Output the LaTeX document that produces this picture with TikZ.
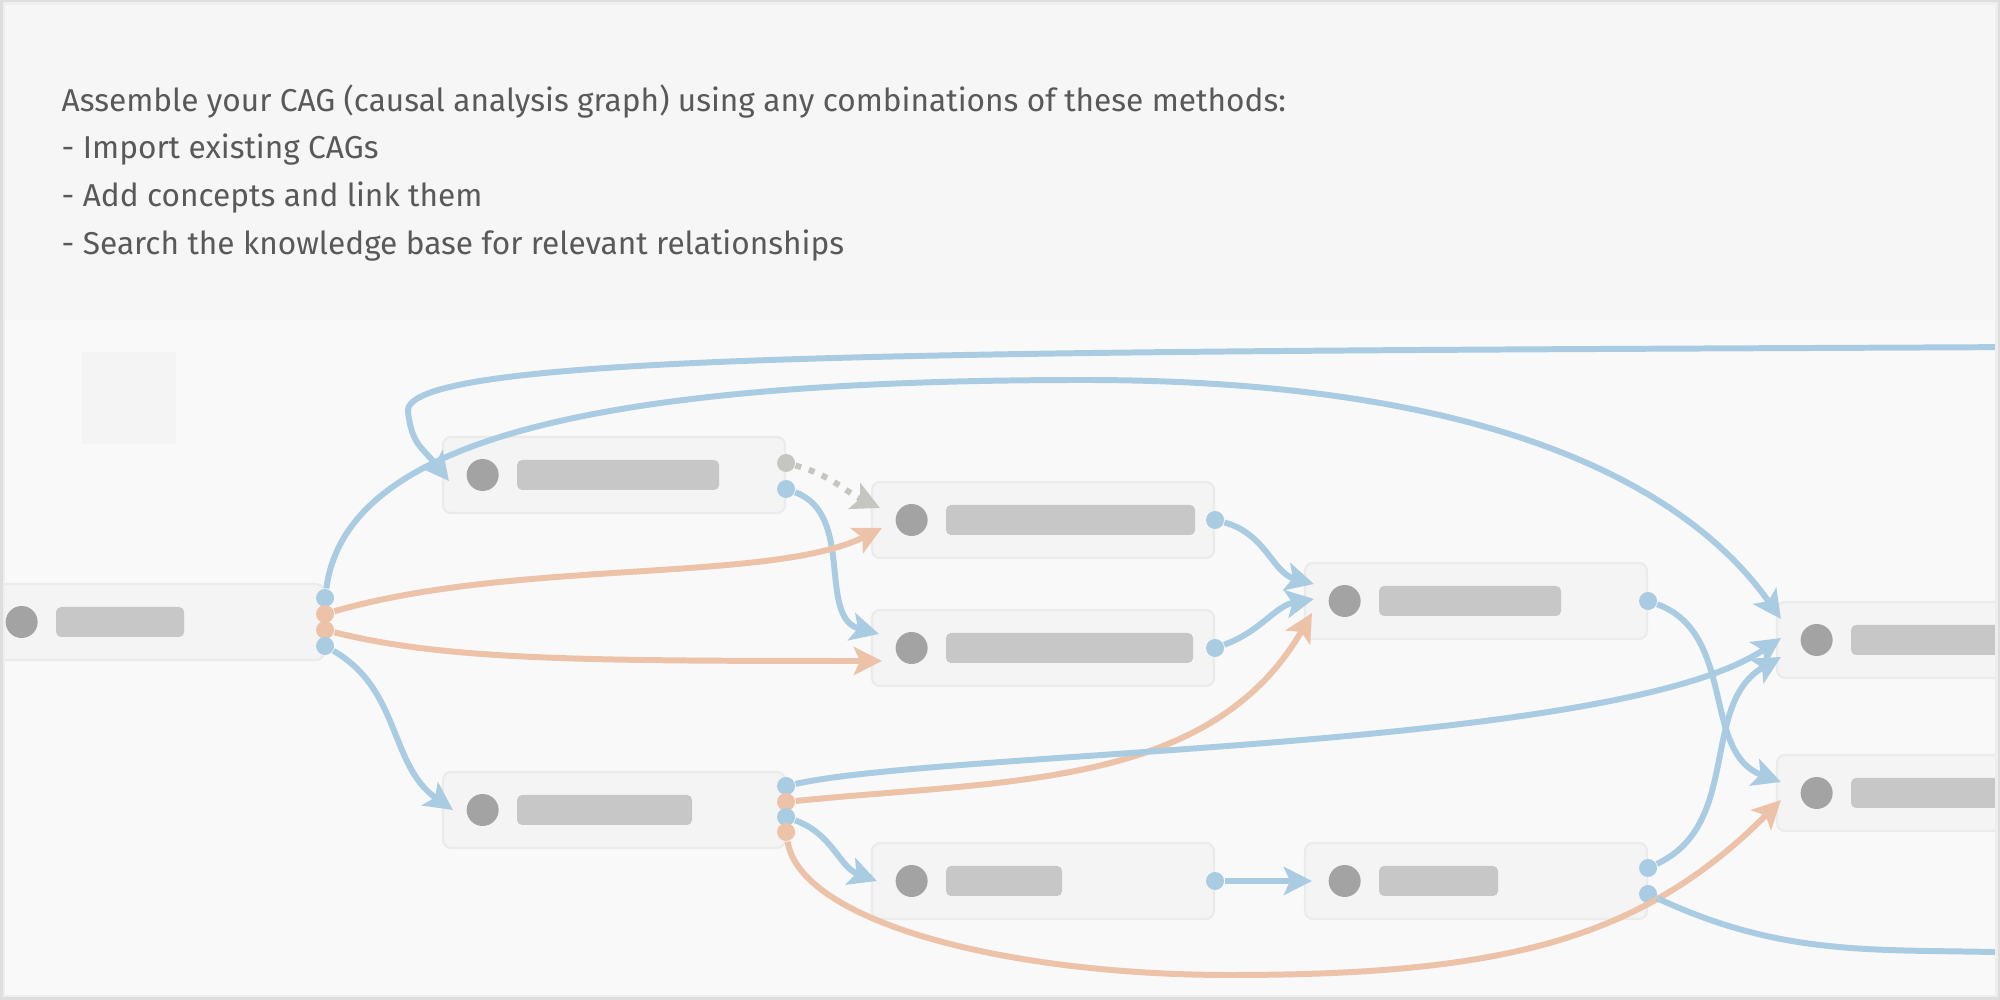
\documentclass[tikz,border=0pt]{standalone}
\usepackage{xcolor}
\usepackage{fontspec}
\setmainfont{Fira Sans}
\usetikzlibrary{arrows.meta,positioning}

\begin{document}
\begin{tikzpicture}[
  cagbox/.style={shape=rectangle,draw=cbd,fill=cfb,line width=0.6pt,rounded corners=0.08cm,minimum width=3.42cm,minimum height=0.76cm,inner sep=0pt},
  cagdot/.style={shape=circle,fill=cdot,minimum size=0.32cm,inner sep=0pt},
  cagbar/.style={shape=rectangle,fill=cbar,rounded corners=0.05cm,minimum height=0.30cm,inner sep=0pt},
  cagport/.style={shape=circle,minimum size=0.18cm,inner sep=0pt},
  cagline/.style={line width=1.7pt},
  cagedge/.style={cagline,-{Stealth[length=8pt,width=8pt,inset=1.8pt]}},
  cagdots/.style={cagedge,dash pattern=on 1.7pt off 2.3pt},
  cagtext/.style={anchor=base west,inner sep=0pt,text=ctxt,font=\fontsize{9}{11}\selectfont}
]
\definecolor{cbg}{rgb}{0.976,0.976,0.976}
\definecolor{ctop}{rgb}{0.965,0.965,0.965}
\definecolor{csq}{rgb}{0.955,0.955,0.955}
\definecolor{cframe}{rgb}{0.87,0.87,0.87}
\definecolor{cframein}{rgb}{0.935,0.935,0.935}
\definecolor{ctxt}{rgb}{0.35,0.35,0.35}
\definecolor{cfb}{rgb}{0.955,0.955,0.955}
\definecolor{cbd}{rgb}{0.92,0.92,0.92}
\definecolor{cdot}{rgb}{0.64,0.64,0.64}
\definecolor{cbar}{rgb}{0.776,0.780,0.776}
\definecolor{cblue}{rgb}{0.663,0.800,0.890}
\definecolor{corange}{rgb}{0.925,0.761,0.659}
\definecolor{cgray}{rgb}{0.773,0.773,0.757}
%
\useasboundingbox (0,0) rectangle (20,-10);
\clip (0,0) rectangle (20,-10);
\fill[cbg] (0,0) rectangle (20,-10);
\fill[ctop] (0,0) rectangle (20,-3.2);
\fill[csq] (0.82,-3.52) rectangle (1.76,-4.44);
%
\node[cagtext] (t1) at (0.61,-1.12) {Assemble your CAG (causal analysis graph) using any combinations of these methods:};
\node[cagtext] (t2) at (0.61,-1.59) {- Import existing CAGs};
\node[cagtext] (t3) at (0.61,-2.07) {- Add concepts and link them};
\node[cagtext] (t4) at (0.61,-2.55) {- Search the knowledge base for relevant relationships};
%
\node[cagbox] (n0) at (1.53,-6.22) {};
\node[cagbox] (n1) at (6.14,-4.75) {};
\node[cagbox] (n2) at (10.43,-5.20) {};
\node[cagbox] (n3) at (10.43,-6.48) {};
\node[cagbox] (n4) at (14.76,-6.01) {};
\node[cagbox] (n5) at (6.14,-8.10) {};
\node[cagbox] (n6) at (10.43,-8.81) {};
\node[cagbox] (n7) at (14.76,-8.81) {};
\node[cagbox] (n8) at (19.48,-6.40) {};
\node[cagbox] (n9) at (19.48,-7.93) {};
%
\node[cagdot,right=0.24cm of n0.west] (d0) {};
\node[cagdot,right=0.24cm of n1.west] (d1) {};
\node[cagdot,right=0.24cm of n2.west] (d2) {};
\node[cagdot,right=0.24cm of n3.west] (d3) {};
\node[cagdot,right=0.24cm of n4.west] (d4) {};
\node[cagdot,right=0.24cm of n5.west] (d5) {};
\node[cagdot,right=0.24cm of n6.west] (d6) {};
\node[cagdot,right=0.24cm of n7.west] (d7) {};
\node[cagdot,right=0.24cm of n8.west] (d8) {};
\node[cagdot,right=0.24cm of n9.west] (d9) {};
%
\node[cagbar,minimum width=1.28cm,right=0.17cm of d0] (b0) {};
\node[cagbar,minimum width=2.02cm,right=0.17cm of d1] (b1) {};
\node[cagbar,minimum width=2.49cm,right=0.17cm of d2] (b2) {};
\node[cagbar,minimum width=2.47cm,right=0.17cm of d3] (b3) {};
\node[cagbar,minimum width=1.82cm,right=0.17cm of d4] (b4) {};
\node[cagbar,minimum width=1.75cm,right=0.17cm of d5] (b5) {};
\node[cagbar,minimum width=1.16cm,right=0.17cm of d6] (b6) {};
\node[cagbar,minimum width=1.19cm,right=0.17cm of d7] (b7) {};
\node[cagbar,minimum width=2.40cm,right=0.17cm of d8] (b8) {};
\node[cagbar,minimum width=2.40cm,right=0.17cm of d9] (b9) {};
%
\node[cagport,fill=cblue] (p0a) at ([yshift=0.24cm]n0.east) {};
\node[cagport,fill=corange] (p0b) at ([yshift=0.08cm]n0.east) {};
\node[cagport,fill=corange] (p0c) at ([yshift=-0.08cm]n0.east) {};
\node[cagport,fill=cblue] (p0d) at ([yshift=-0.24cm]n0.east) {};
\node[cagport,fill=cgray] (p1a) at ([yshift=0.12cm]n1.east) {};
\node[cagport,fill=cblue] (p1b) at ([yshift=-0.14cm]n1.east) {};
\node[cagport,fill=cblue] (p2) at (n2.east) {};
\node[cagport,fill=cblue] (p3) at (n3.east) {};
\node[cagport,fill=cblue] (p4) at (n4.east) {};
\node[cagport,fill=cblue] (p5a) at ([yshift=0.24cm]n5.east) {};
\node[cagport,fill=corange] (p5b) at ([yshift=0.08cm]n5.east) {};
\node[cagport,fill=cblue] (p5c) at ([yshift=-0.07cm]n5.east) {};
\node[cagport,fill=corange] (p5d) at ([yshift=-0.22cm]n5.east) {};
\node[cagport,fill=cblue] (p6) at (n6.east) {};
\node[cagport,fill=cblue] (p7a) at ([yshift=0.13cm]n7.east) {};
\node[cagport,fill=cblue] (p7b) at ([yshift=-0.13cm]n7.east) {};
\coordinate (cin) at (20.3,-3.47);
\coordinate (cout) at (20.3,-9.53);
%
\draw[cagedge,cblue] (p0a) .. controls (3.45,-4.5) and (5.6,-3.8) .. (10.84,-3.80) .. controls (15,-3.8) and (16.9,-4.9) .. ([xshift=0.05cm,yshift=0.21cm]n8.west);
\draw[cagedge,cblue] (cin) .. controls (10,-3.52) and (4.0,-3.5) .. (4.08,-4.12) .. controls (4.12,-4.45) and (4.22,-4.47) .. ([xshift=0.07cm,yshift=-0.06cm]n1.west);
\draw[cagdots,cgray] (p1a) to[out=-15,in=155] ([xshift=0.09cm,yshift=0.12cm]n2.west);
\draw[cagedge,cblue] (p1b) to[out=-20,in=165] ([xshift=0.08cm,yshift=0.14cm]n3.west);
\draw[cagedge,corange] (p0b) .. controls +(1.9,0.55) and +(-1.1,-0.55) .. ([xshift=0.11cm,yshift=-0.08cm]n2.west);
\draw[cagedge,corange] (p0c) .. controls +(1.2,-0.3) and +(-3,0) .. ([xshift=0.11cm,yshift=-0.13cm]n3.west);
\draw[cagedge,cblue] (p0d) to[out=-30,in=145] ([xshift=0.11cm]n5.west);
\draw[cagedge,cblue] (p2) to[out=-15,in=165] ([xshift=0.1cm,yshift=0.17cm]n4.west);
\draw[cagedge,cblue] (p3) to[out=20,in=190] ([xshift=0.1cm,yshift=0.02cm]n4.west);
\draw[cagedge,corange] (p5b) .. controls (10.0,-7.8) and (12.1,-7.9) .. ([xshift=0.08cm,yshift=-0.12cm]n4.west);
\draw[cagedge,cblue] (p5a) .. controls (9.5,-7.5) and (16.16,-7.5) .. ([xshift=0.05cm,yshift=0.02cm]n8.west);
\draw[cagedge,cblue] (p5c) to[out=-20,in=160] ([xshift=0.06cm]n6.west);
\draw[cagedge,corange] (p5d) .. controls (8.0,-9.2) and (10,-9.75) .. (12.3,-9.75) .. controls (15,-9.75) and (16.41,-9.41) .. ([xshift=0.05cm,yshift=-0.07cm]n9.west);
\draw[cagedge,cblue] (p6) -- ([xshift=0.08cm]n7.west);
\draw[cagedge,cblue] (p4) to[out=-20,in=160] ([xshift=0.05cm,yshift=0.11cm]n9.west);
\draw[cagedge,cblue] (p7a) to[out=25,in=210] ([xshift=0.05cm,yshift=-0.17cm]n8.west);
\draw[cagline,cblue] (p7b) to[out=-25,in=178] (cout);
%
\draw[cframein,line width=0.1cm] (0,0) rectangle (20,-10);
\draw[cframe,line width=0.05cm] (0,0) rectangle (20,-10);
\end{tikzpicture}
\end{document}
